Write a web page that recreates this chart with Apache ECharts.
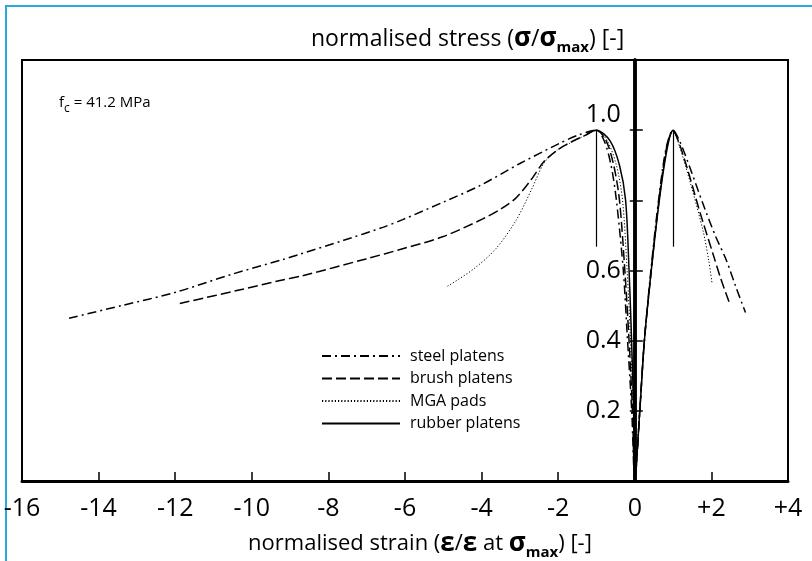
<!DOCTYPE html>
<html><head><meta charset="utf-8">
<script src="https://cdn.jsdelivr.net/npm/echarts@6/dist/echarts.min.js"></script>
<style>html,body{margin:0;padding:0;background:#fff}#c{width:812px;height:561px}</style>
</head><body><div id="c"></div>
<script>
// normalised strain (x) vs normalised stress (y); each curve: axial tail -> peak -> origin -> lateral peak -> lateral tail
const seriesNames = ['steel platens', 'brush platens', 'MGA pads', 'rubber platens'];
const steelData = [
  [-14.77,0.464],[-13.4,0.50],[-11.99,0.538],[-10.5,0.59],[-9.2,0.631],[-8.76,0.646],[-7.6,0.686],
  [-6.58,0.723],[-6.06,0.745],[-5.0,0.795],[-4.06,0.841],[-3.0,0.905],[-1.97,0.962],[-1.5,0.985],[-1,1],
  [-0.8,0.97],[-0.62,0.9],[-0.48,0.8],[-0.3,0.6],[-0.2,0.42],[-0.08,0.2],[0,0],
  [0.13,0.2],[0.25,0.4],[0.42,0.6],[0.62,0.8],[0.82,0.95],[1,1],
  [1.17,0.969],[1.45,0.89],[1.78,0.79],[2.1,0.70],[2.39,0.629],[2.65,0.55],[2.89,0.48]
];
const brushData = [
  [-11.88,0.506],[-10.3,0.545],[-9.2,0.573],[-8.68,0.585],[-7.02,0.633],[-6.06,0.662],[-5.02,0.696],
  [-3.97,0.747],[-3.5,0.775],[-3.10,0.807],[-2.7,0.86],[-2.36,0.912],[-2.0,0.945],[-1.71,0.964],[-1.3,0.985],[-1,1],
  [-0.75,0.97],[-0.55,0.9],[-0.4,0.8],[-0.26,0.6],[-0.16,0.42],[-0.06,0.2],[0,0],
  [0.13,0.2],[0.25,0.4],[0.43,0.6],[0.63,0.8],[0.83,0.95],[1,1],
  [1.15,0.965],[1.4,0.88],[1.69,0.77],[2.04,0.648],[2.25,0.575],[2.47,0.508]
];
const mgaData = [
  [-4.89,0.555],[-4.2,0.605],[-3.62,0.663],[-3.10,0.743],[-2.7,0.83],[-2.36,0.908],[-2.0,0.945],
  [-1.71,0.962],[-1.3,0.985],[-1,1],
  [-0.72,0.97],[-0.48,0.9],[-0.32,0.8],[-0.2,0.6],[-0.12,0.42],[-0.04,0.2],[0,0],
  [0.13,0.2],[0.25,0.4],[0.43,0.6],[0.64,0.8],[0.84,0.95],[1,1],
  [1.15,0.96],[1.45,0.85],[1.78,0.714],[1.93,0.629],[2.02,0.561]
];
const rubberData = [
  [-1.25,0.99],[-1,1],
  [-0.65,0.97],[-0.4,0.9],[-0.24,0.8],[-0.15,0.6],[-0.09,0.42],[-0.03,0.2],[0,0],
  [0.13,0.2],[0.25,0.4],[0.43,0.6],[0.64,0.8],[0.85,0.95],[1,1],[1.1,0.98]
];
// strain at peak stress: thin vertical marker lines
const peakStrains = [-1, 1];
const peakLineTop = 1.0;
const peakLineBottom = 0.668;
const xTicks = { min: -16, max: 4, interval: 2 };
const yTicks = { min: 0, max: 1.2, interval: 0.2 };
const yLabelShown = { '1': '{u|1.0}', '0.6': '0.6', '0.4': '0.4', '0.2': '0.2' };

const FONT = 'Open Sans';
const dashStyles = [
  { type: [9, 4, 2, 4], width: 1.5 },
  { type: [10, 4], width: 1.5 },
  { type: [1.2, 2], width: 1 },
  { type: 'solid', width: 1.5 }
];
const allData = [steelData, brushData, mgaData, rubberData];

const W = 812, H = 561;
const G = { left: 22, right: 24, top: 60, bottom: 80 };
const gridW = W - G.left - G.right;
const zeroOffset = gridW * (0 - xTicks.min) / (xTicks.max - xTicks.min);

const chart = echarts.init(document.getElementById('c'), null, { renderer: 'canvas' });

const series = allData.map((d, i) => ({
  name: seriesNames[i],
  type: 'line',
  data: d,
  symbol: 'none',
  showSymbol: false,
  smooth: 0.3,
  lineStyle: { color: '#000', type: dashStyles[i].type, width: dashStyles[i].width },
  itemStyle: { color: '#000' },
  z: 3
}));
series[3].markLine = {
  silent: true,
  symbol: 'none',
  label: { show: false },
  lineStyle: { color: '#000', type: 'solid', width: 1.2 },
  data: peakStrains.map(s => [{ coord: [s, peakLineTop] }, { coord: [s, peakLineBottom] }])
};

const rich = {
  n: { fontFamily: FONT, fontSize: 23, fontWeight: 'normal', color: '#000', lineHeight: 32, verticalAlign: 'middle' },
  s: { fontFamily: FONT, fontSize: 26, fontWeight: 'bold', color: '#000', lineHeight: 32, verticalAlign: 'middle' },
  sub: { fontFamily: FONT, fontSize: 15, fontWeight: 'bold', color: '#000', lineHeight: 32, verticalAlign: 'bottom' }
};
const richX = Object.assign({}, rich, {
  n: Object.assign({}, rich.n, { fontSize: 22 })
});

chart.setOption({
  animation: false,
  backgroundColor: '#fff',
  grid: { left: G.left, right: G.right, top: G.top, bottom: G.bottom, show: true, borderColor: '#000', borderWidth: 2,
    containLabel: false, outerBoundsMode: 'none' },
  graphic: [
    { type: 'polyline', shape: { points: [[6, 561], [6, 6], [812, 6]] }, style: { stroke: '#2aa9e0', lineWidth: 2, fill: null }, silent: true }
  ],
  title: [
    { text: '{n|normalised stress (}{s|σ}{n|/}{s|σ}{sub|max}{n|) [-]}', left: 306, top: 18, textStyle: { fontWeight: 'normal', rich } },
    { text: '{n|f}{sub|c}{n| = 41.2 MPa}', left: 54, top: 86,
      textStyle: { fontWeight: 'normal', rich: {
        n: { fontFamily: FONT, fontSize: 15, fontWeight: 'normal', color: '#000', lineHeight: 24, verticalAlign: 'middle' },
        sub: { fontFamily: FONT, fontSize: 12, fontWeight: 'normal', color: '#000', lineHeight: 24, verticalAlign: 'bottom' }
      } } }
  ],
  legend: {
    data: seriesNames,
    orient: 'vertical',
    left: 316,
    top: 343,
    itemWidth: 78,
    itemHeight: 14,
    itemGap: 6.5,
    itemStyle: { opacity: 0 },
    textStyle: { fontFamily: FONT, fontSize: 16, color: '#000', padding: [0, 0, 0, 5] },
    selectedMode: false
  },
  xAxis: {
    type: 'value',
    min: xTicks.min, max: xTicks.max, interval: xTicks.interval,
    axisLine: { onZero: false, lineStyle: { color: '#000', width: 3 } },
    axisTick: { inside: true, length: 9, lineStyle: { color: '#000', width: 1.5 } },
    axisLabel: { fontFamily: FONT, fontSize: 25, color: '#000', margin: 15, showMinLabel: true, showMaxLabel: true,
      formatter: v => (v > 0 ? '+' + v : String(v)) },
    splitLine: { show: false },
    name: '{n|normalised strain (}{s|ε}{n|/}{s|ε}{n| at }{s|σ}{sub|max}{n|) [-]}',
    nameLocation: 'middle',
    nameGap: 47,
    nameTextStyle: { rich: richX, padding: [0, 0, 0, 30] }
  },
  yAxis: [{
    type: 'value', position: 'left', offset: -zeroOffset,
    min: yTicks.min, max: yTicks.max, interval: yTicks.interval,
    axisLine: { show: true, onZero: false, lineStyle: { color: '#000', width: 3.5 } },
    axisTick: { show: true, length: 5, lineStyle: { color: '#000', width: 1.5 } },
    axisLabel: { fontFamily: FONT, fontSize: 25, color: '#000', margin: 14,
      formatter: v => yLabelShown[String(Math.round(v * 10) / 10)] || '',
      rich: { u: { fontFamily: FONT, fontSize: 25, color: '#000', padding: [0, 0, 30, 0] } } },
    splitLine: { show: false }
  }, {
    type: 'value', position: 'right', offset: -(gridW - zeroOffset),
    min: yTicks.min, max: yTicks.max, interval: yTicks.interval,
    axisLine: { show: true, onZero: false, lineStyle: { color: '#000', width: 3.5 } },
    axisTick: { show: true, length: 8, lineStyle: { color: '#000', width: 1.5 } },
    axisLabel: { show: false },
    splitLine: { show: false }
  }],
  series
});
</script>
</body></html>
